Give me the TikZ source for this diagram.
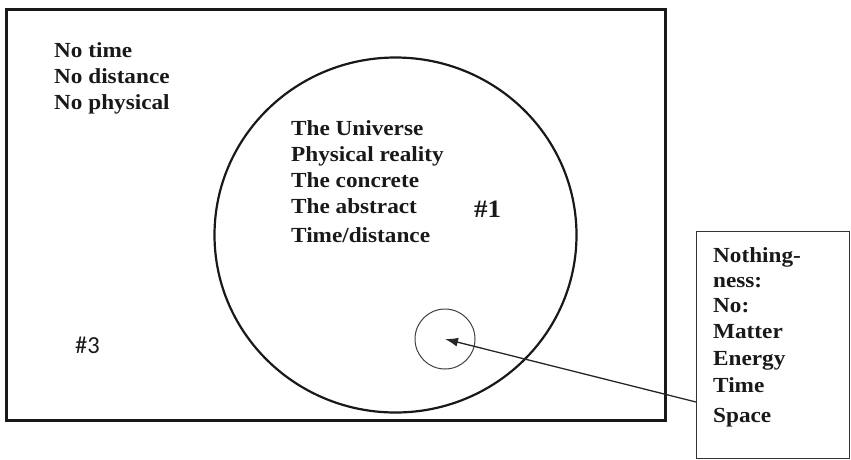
\documentclass[tikz,border=0pt]{standalone}
\usepackage{fontspec}
\setmainfont{Liberation Serif}[FakeStretch=1.08]
\newfontfamily\hashfont{Carlito}
\usetikzlibrary{arrows.meta,shapes.geometric}
\tikzset{
  txt/.style={anchor=base west, inner sep=0pt, font=\fontsize{21.5}{26}\selectfont\bfseries, text=black!90},
  frameline/.style={draw=black!90, line width=2.6pt},
  thinline/.style={draw=black!80, line width=1.4pt},
}
\begin{document}
\begin{tikzpicture}[x=1pt, y=-1pt]
\useasboundingbox (0,0) rectangle (851,459);
% outer frame
\node[frameline, anchor=north west, minimum width=659pt, minimum height=411pt, inner sep=0pt] (frame) at (5,8) {};
% universe circle
\node[ellipse, draw=black!90, line width=2.2pt, minimum width=362pt, minimum height=355pt, inner sep=0pt] (univ) at (395.5,235) {};
% small circle
\node[circle, draw=black!75, line width=1pt, minimum size=60pt, inner sep=0pt] (void) at (445,339) {};
% nothingness box
\node[thinline, anchor=north west, minimum width=153pt, minimum height=227pt, inner sep=0pt] (nbox) at (696,231) {};
\coordinate (astart) at (696,402);
\draw[black!85, line width=1.3pt, -{Latex[length=13pt,width=9pt]}] (astart) -- (void.center);
% left texts
\node[txt] (t1) at (54,57) {No time};
\node[txt] (t2) at (54,83) {No distance};
\node[txt] (t3) at (54,109) {No physical};
% universe texts
\node[txt] (u1) at (291,135) {The Universe};
\node[txt] (u2) at (291,161) {Physical reality};
\node[txt] (u3) at (291,187) {The concrete};
\node[txt] (u4) at (291,213) {The abstract};
\node[txt] (u5) at (291,242) {Time/distance};
\node[anchor=base west, inner sep=0pt, font=\fontsize{25}{30}\selectfont\bfseries, text=black!90] (h1) at (474,217) {\#1};
\node[anchor=base west, inner sep=0pt, font=\hashfont\fontsize{24.5}{30}\selectfont, text=black!90] (h3) at (75,353) {\#3};
% box texts
\node[txt] (n1) at (713,262) {Nothing-};
\node[txt] (n2) at (713,287) {ness:};
\node[txt] (n3) at (713,312) {No:};
\node[txt] (n4) at (713,338) {Matter};
\node[txt] (n5) at (713,365) {Energy};
\node[txt] (n6) at (713,392) {Time};
\node[txt] (n7) at (713,422) {Space};
\end{tikzpicture}
\end{document}
